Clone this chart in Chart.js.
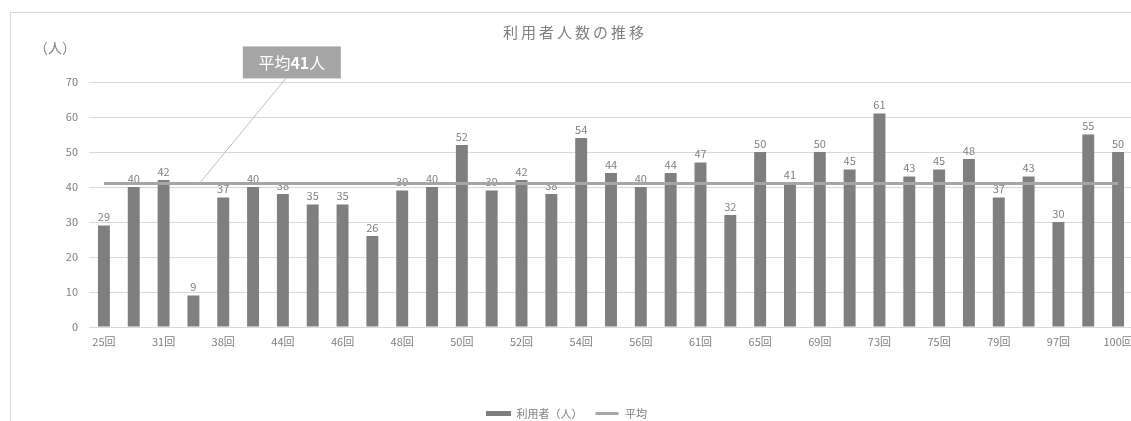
<!DOCTYPE html>
<html lang="ja">
<head>
<meta charset="utf-8">
<script src="https://cdn.jsdelivr.net/npm/chart.js@4"></script>
<style>
  html, body { margin: 0; padding: 0; background: #fff; overflow: hidden; }
  #frame { position: absolute; left: 10px; top: 12px; width: 1200px; height: 500px; border: 1px solid #d9d9d9; }
  #wrap { position: absolute; left: 0; top: 0; width: 1150px; height: 429px; }
</style>
</head>
<body>
<div id="frame"></div>
<div id="wrap"><canvas id="chart"></canvas></div>
<script>
// 回ごとの利用者数
const rounds = [
  '25回', '28回', '31回', '34回', '38回', '41回', '44回', '45回', '46回', '47回',
  '48回', '49回', '50回', '51回', '52回', '53回', '54回', '55回', '56回', '58回',
  '61回', '63回', '65回', '67回', '69回', '71回', '73回', '74回', '75回', '77回',
  '79回', '88回', '97回', '99回', '100回'
];
const users = [
  29, 40, 42, 9, 37, 40, 38, 35, 35, 26,
  39, 40, 52, 39, 42, 38, 54, 44, 40, 44,
  47, 32, 50, 41, 50, 45, 61, 43, 45, 48,
  37, 43, 30, 55, 50
];
const AVERAGE = 41;
const averageLine = [
  41, 41, 41, 41, 41, 41, 41, 41, 41, 41,
  41, 41, 41, 41, 41, 41, 41, 41, 41, 41,
  41, 41, 41, 41, 41, 41, 41, 41, 41, 41,
  41, 41, 41, 41, 41
];
const yTicks = [0, 10, 20, 30, 40, 50, 60, 70];

const FONT = '"Noto Sans CJK JP", "Noto Sans", sans-serif';
const TEXT_GRAY = '#808080';
const BAR_GRAY = '#7f7f7f';
const LINE_GRAY = '#a6a6a6';

// タイトルと（人）
const headerPlugin = {
  id: 'header',
  afterDraw(chart) {
    const ctx = chart.ctx;
    ctx.save();
    ctx.fillStyle = TEXT_GRAY;
    ctx.textBaseline = 'middle';
    ctx.textAlign = 'center';
    ctx.font = '15px ' + FONT;
    ctx.letterSpacing = '3px';
    ctx.fillText('利用者人数の推移', chart.width / 2, 32);
    ctx.letterSpacing = '0px';
    ctx.font = '14px ' + FONT;
    ctx.fillText('（人）', 55, 48);
    ctx.restore();
  }
};

// 棒の上の数値
const valueLabels = {
  id: 'valueLabels',
  afterDatasetDraw(chart, args) {
    if (args.index !== 0) return;
    const ctx = chart.ctx;
    ctx.save();
    ctx.fillStyle = TEXT_GRAY;
    ctx.font = '11px ' + FONT;
    ctx.textAlign = 'center';
    ctx.textBaseline = 'bottom';
    args.meta.data.forEach((bar, i) => {
      ctx.fillText(users[i], bar.x, bar.y - 3);
    });
    ctx.restore();
  }
};

// 平均の吹き出し
const callout = {
  id: 'callout',
  afterDatasetsDraw(chart) {
    const { ctx, scales: { x, y } } = chart;
    const tipX = x.getPixelForValue(3.2);
    const tipY = y.getPixelForValue(AVERAGE);
    const cx = x.getPixelForValue(6.3);
    const cy = y.getPixelForValue(75.6);
    const w = 98, h = 32;
    ctx.save();
    ctx.strokeStyle = '#bfbfbf';
    ctx.lineWidth = 1;
    ctx.beginPath();
    ctx.moveTo(cx - 6, cy + h / 2);
    ctx.lineTo(tipX, tipY);
    ctx.stroke();
    ctx.fillStyle = '#a5a5a5';
    ctx.fillRect(cx - w / 2, cy - h / 2, w, h);
    const parts = [['平均', 'normal'], [String(AVERAGE), 'bold'], ['人', 'normal']];
    let total = 0;
    parts.forEach(p => { ctx.font = p[1] + ' 16px ' + FONT; total += ctx.measureText(p[0]).width; });
    let px = cx - total / 2;
    ctx.fillStyle = '#ffffff';
    ctx.textBaseline = 'middle';
    ctx.textAlign = 'left';
    parts.forEach(p => {
      ctx.font = p[1] + ' 16px ' + FONT;
      ctx.fillText(p[0], px, cy + 1);
      px += ctx.measureText(p[0]).width;
    });
    ctx.restore();
  }
};

new Chart(document.getElementById('chart'), {
  type: 'bar',
  data: {
    labels: rounds,
    datasets: [
      {
        type: 'bar',
        label: '利用者（人）',
        data: users,
        backgroundColor: BAR_GRAY,
        categoryPercentage: 1,
        barPercentage: 0.4,
        order: 2
      },
      {
        type: 'line',
        label: '平均',
        data: averageLine,
        borderColor: LINE_GRAY,
        backgroundColor: LINE_GRAY,
        borderWidth: 3,
        pointRadius: 0,
        fill: false,
        order: 1
      }
    ]
  },
  options: {
    responsive: true,
    maintainAspectRatio: false,
    animation: false,
    layout: { padding: { top: 82, right: 17, left: 0, bottom: 0 } },
    plugins: {
      title: { display: false },
      tooltip: { enabled: false },
      legend: {
        position: 'bottom',
        labels: {
          color: TEXT_GRAY,
          font: { family: FONT, size: 11 },
          boxWidth: 25,
          boxHeight: 5,
          padding: 12,
          sort: (a, b) => a.datasetIndex - b.datasetIndex,
          generateLabels(chart) {
            const items = Chart.defaults.plugins.legend.labels.generateLabels(chart);
            items.forEach(it => {
              if (it.datasetIndex === 1) {
                it.fillStyle = LINE_GRAY;
                it.strokeStyle = '#ffffff';
                it.lineWidth = 2;
              } else {
                it.lineWidth = 0;
              }
            });
            return items;
          }
        }
      }
    },
    scales: {
      x: {
        grid: { display: false, drawTicks: false },
        border: { display: false },
        ticks: {
          color: TEXT_GRAY,
          font: { family: FONT, size: 11 },
          autoSkip: false,
          maxRotation: 0,
          padding: 8,
          callback: (v, i) => (i % 2 === 0 ? rounds[i] : '')
        },
        afterFit(scale) { scale.height = 69; }
      },
      y: {
        min: 0,
        max: 70,
        afterBuildTicks(scale) { scale.ticks = yTicks.map(v => ({ value: v })); },
        grid: { color: '#d9d9d9', drawTicks: false },
        border: { display: false },
        ticks: {
          color: TEXT_GRAY,
          font: { family: FONT, size: 11 },
          padding: 11
        },
        afterFit(scale) { scale.width = 89; }
      }
    }
  },
  plugins: [headerPlugin, valueLabels, callout]
});
</script>
</body>
</html>
